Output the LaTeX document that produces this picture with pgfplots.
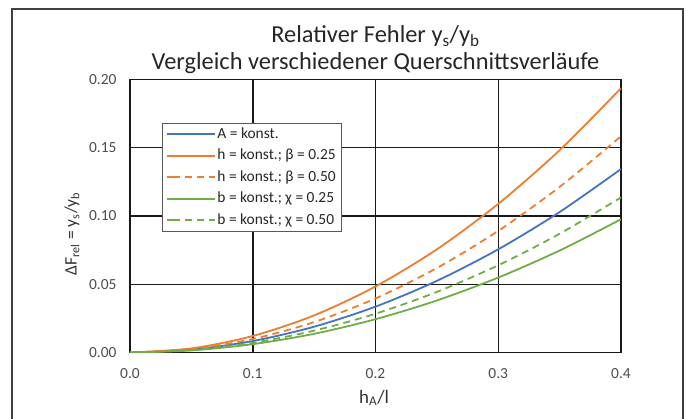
\documentclass[border=0pt]{standalone}
\usepackage{pgfplots}
\pgfplotsset{compat=1.18}
\usepackage{fontspec}
\setmainfont{Carlito}
\definecolor{xblue}{HTML}{4472C4}
\definecolor{xorange}{HTML}{ED7D31}
\definecolor{xgreen}{HTML}{70AD47}
\definecolor{frame}{HTML}{404040}
\begin{document}
\begin{tikzpicture}
\useasboundingbox (-130bp,-66.5bp) rectangle (556bp,352.5bp);
\draw[frame, line width=1.2bp] (-118bp,-80bp) -- (-118bp,343.5bp) -- (553bp,343.5bp) -- (553bp,-80bp);
\begin{axis}[
  at={(0,0)}, anchor=south west,
  scale only axis, width=491bp, height=273bp,
  xmin=0, xmax=0.4, ymin=0, ymax=0.2,
  xtick={0,0.1,0.2,0.3,0.4},
  ytick={0,0.05,0.1,0.15,0.2},
  grid=major,
  major grid style={black!90, line width=1.5bp},
  axis line style={black!90, line width=1.5bp},
  tick style={draw=none},
  /pgf/number format/assume math mode=true,
  xticklabel style={/pgf/number format/fixed, /pgf/number format/fixed zerofill, /pgf/number format/precision=1, yshift=-12bp},
  yticklabel style={/pgf/number format/fixed, /pgf/number format/fixed zerofill, /pgf/number format/precision=2, xshift=-10bp},
  ticklabel style={font=\fontsize{15.5}{18}\selectfont, text=black!70},
  xlabel={h\textsubscript{A}/l},
  ylabel={ΔF\textsubscript{rel} = y\textsubscript{s}/y\textsubscript{b}},
  label style={font=\fontsize{19}{22}\selectfont, text=black!80},
  xlabel style={at={(axis description cs:0.497,-0.167)}, anchor=center},
  ylabel style={at={(axis description cs:-0.118,0.435)}, anchor=center, font=\fontsize{17.5}{20}\selectfont},
  legend cell align=left,
  legend style={at={(rel axis cs:0.065,0.841)}, anchor=north west,
    draw=black!65, fill=white,
    font=\fontsize{15.5}{18}\selectfont, text=black!85,
    inner xsep=4bp, inner ysep=3bp, row sep=5bp,
    nodes={inner sep=1.5bp, text height=10.5bp, text depth=3bp}},
]
\addplot[xblue, line width=1.8bp, smooth,
  legend image code/.code={\path (0bp,0bp) -- (6bp,0bp); \draw[xblue, line width=1.8bp] (6bp,0bp) -- (48bp,0bp);}] coordinates {
(0,0) (0.05,0.0021) (0.1,0.0084) (0.15,0.0189) (0.2,0.0336) (0.25,0.0525) (0.3,0.0756) (0.35,0.1029) (0.4,0.1344)};
\addlegendentry{A = konst.}
\addplot[xorange, line width=1.8bp, smooth,
  legend image code/.code={\path (0bp,0bp) -- (6bp,0bp); \draw[xorange, line width=1.8bp] (6bp,0bp) -- (48bp,0bp);}] coordinates {
(0,0) (0.05,0.0030) (0.1,0.0121) (0.15,0.0272) (0.2,0.0484) (0.25,0.0756) (0.3,0.1089) (0.35,0.1482) (0.4,0.1936)};
\addlegendentry{h = konst.; β = 0.25}
\addplot[xorange, line width=1.8bp, smooth, dash pattern=on 7bp off 5bp,
  legend image code/.code={\path (0bp,0bp) -- (6bp,0bp); \draw[xorange, line width=1.8bp, dash pattern=on 7bp off 5bp] (6bp,0bp) -- (48bp,0bp);}] coordinates {
(0,0) (0.05,0.0025) (0.1,0.0099) (0.15,0.0223) (0.2,0.0396) (0.25,0.0619) (0.3,0.0891) (0.35,0.1213) (0.4,0.1584)};
\addlegendentry{h = konst.; β = 0.50}
\addplot[xgreen, line width=1.8bp, smooth,
  legend image code/.code={\path (0bp,0bp) -- (6bp,0bp); \draw[xgreen, line width=1.8bp] (6bp,0bp) -- (48bp,0bp);}] coordinates {
(0,0) (0.05,0.0015) (0.1,0.0061) (0.15,0.0137) (0.2,0.0244) (0.25,0.0381) (0.3,0.0549) (0.35,0.0747) (0.4,0.0976)};
\addlegendentry{b = konst.; χ = 0.25}
\addplot[xgreen, line width=1.8bp, smooth, dash pattern=on 7bp off 5bp,
  legend image code/.code={\path (0bp,0bp) -- (6bp,0bp); \draw[xgreen, line width=1.8bp, dash pattern=on 7bp off 5bp] (6bp,0bp) -- (48bp,0bp);}] coordinates {
(0,0) (0.05,0.0018) (0.1,0.0071) (0.15,0.0160) (0.2,0.0284) (0.25,0.0444) (0.3,0.0639) (0.35,0.0870) (0.4,0.1136)};
\addlegendentry{b = konst.; χ = 0.50}
\end{axis}
\node[font=\fontsize{24.5}{27}\selectfont, text=black!85, align=center] at (245.5bp,302.5bp)
  {Relativer Fehler y\textsubscript{s}/y\textsubscript{b}\\[0bp]Vergleich verschiedener Querschnittsverläufe};
\end{tikzpicture}
\end{document}
